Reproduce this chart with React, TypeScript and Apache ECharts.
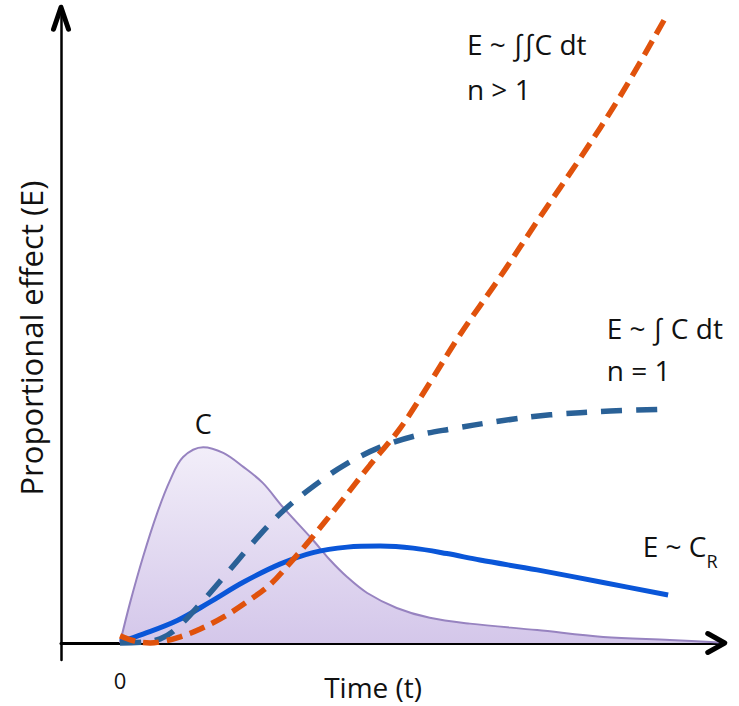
import React, { useEffect, useRef } from "react";
import * as echarts from "echarts";

// Concentration curve C(t)
const cT = [0, 0.17, 0.39, 0.63, 0.85, 1.07, 1.41, 1.75, 2.09, 2.42, 2.76, 3.27, 3.56, 3.85, 4.19, 4.69, 5.25, 5.93, 7.07, 8.19, 9.32, 10.25];
const cV = [0, 1.18, 2.53, 3.82, 4.79, 5.47, 5.76, 5.59, 5.18, 4.71, 4.0, 3.03, 2.44, 1.94, 1.47, 1.03, 0.74, 0.57, 0.38, 0.18, 0.09, 0.01];

// E ~ ∫ C dt (n = 1)
const n1T = [0, 0.42, 0.68, 0.93, 1.36, 1.86, 2.37, 2.8, 3.31, 3.81, 4.41, 5.0, 5.59, 6.44, 7.29, 8.31, 9.29];
const n1V = [0, 0.03, 0.12, 0.38, 1.15, 2.15, 3.18, 3.94, 4.65, 5.24, 5.76, 6.09, 6.29, 6.53, 6.71, 6.82, 6.88];

// E ~ ∫∫ C dt (n > 1)
const n2T = [0, 0.25, 0.51, 0.76, 1.02, 1.36, 1.78, 2.2, 2.54, 2.88, 3.22, 3.73, 4.24, 4.75, 5.25, 5.76, 6.44, 7.12, 7.8, 8.47, 9.27];
const n2V = [0.21, 0.06, 0, 0.06, 0.18, 0.41, 0.79, 1.27, 1.71, 2.35, 3.03, 4.12, 5.24, 6.32, 7.65, 9.06, 10.76, 12.53, 14.26, 16.06, 18.47];

// E ~ C_R
const crT = [0, 0.39, 0.97, 1.53, 2.08, 2.71, 3.27, 3.85, 4.41, 4.97, 5.54, 6.1, 7.07, 8.19, 9.29];
const crV = [0.03, 0.26, 0.66, 1.21, 1.78, 2.32, 2.66, 2.82, 2.85, 2.79, 2.63, 2.44, 2.15, 1.78, 1.41];

// Axis ranges
const X_MIN = -1;
const X_MAX = 10.25;
const Y_MIN = -0.5;
const Y_MAX = 18.7;

// Texts
const labelN2a = "E ~ ∫∫C dt";
const labelN2b = "n > 1";
const labelN1a = "E ~ ∫ C dt";
const labelN1b = "n = 1";
const labelC = "C";
const xName = "Time (t)";
const yName = "Proportional effect (E)";
const zeroLabel = "0";

const FONT = "'Open Sans', 'Noto Sans', 'DejaVu Sans', sans-serif";

const zip = (a: number[], b: number[]) => a.map((x, i) => [x, b[i]]);

export default function App() {
  const ref = useRef<HTMLDivElement>(null);

  useEffect(() => {
    const chart = echarts.init(ref.current!, null, { renderer: "svg" });
    chart.setOption({
      animation: false,
      grid: {
        left: 61,
        right: 14.25,
        top: 7.2,
        bottom: 46,
        outerBoundsMode: "none",
        containLabel: false,
      },
      xAxis: {
        type: "value",
        min: X_MIN,
        max: X_MAX,
        axisLine: { show: true, onZero: true, lineStyle: { color: "#000", width: 3 } },
        axisTick: { show: false },
        axisLabel: { show: false },
        splitLine: { show: false },
      },
      yAxis: {
        type: "value",
        min: Y_MIN,
        max: Y_MAX,
        axisLine: { show: true, onZero: false, lineStyle: { color: "#000", width: 2.5 } },
        axisTick: { show: false },
        axisLabel: { show: false },
        splitLine: { show: false },
      },
      series: [
        {
          type: "line",
          data: zip(cT, cV),
          smooth: 0.35,
          symbol: "none",
          lineStyle: { color: "#9783c0", width: 2 },
          areaStyle: {
            color: new echarts.graphic.LinearGradient(0, 0, 0, 1, [
              { offset: 0, color: "#f2eef9" },
              { offset: 1, color: "#d4c7ea" },
            ]),
            opacity: 1,
          },
          z: 1,
        },
        {
          type: "line",
          data: zip(crT, crV),
          smooth: 0.35,
          symbol: "none",
          lineStyle: { color: "#0a56d8", width: 5 },
          z: 2,
        },
        {
          type: "line",
          data: zip(n1T, n1V),
          smooth: 0.35,
          symbol: "none",
          lineStyle: { color: "#2a6197", width: 5.5, type: [21, 14] },
          z: 3,
        },
        {
          type: "line",
          data: zip(n2T, n2V),
          smooth: 0.35,
          symbol: "none",
          lineStyle: { color: "#e0520c", width: 5.5, type: [16, 8] },
          z: 4,
        },
      ],
    });

    const px = (t: number, v: number) =>
      chart.convertToPixel({ gridIndex: 0 }, [t, v]) as number[];

    const xe = px(X_MAX, 0);
    const ye = px(X_MIN, Y_MAX);

    const txt = (t: number, v: number, text: string, size: number, align = "left", extra: any = {}) => {
      const p = px(t, v);
      return {
        type: "text",
        x: p[0],
        y: p[1],
        z: 100,
        ...extra,
        style: {
          text,
          fontSize: size,
          fontFamily: FONT,
          fill: "#111",
          align,
          verticalAlign: "middle",
          ...(extra.style || {}),
        },
      };
    };

    const pCR = px(8.86, 2.85);

    chart.setOption({
      graphic: [
        {
          type: "polyline",
          shape: {
            points: [
              [xe[0] - 17, xe[1] - 9.5],
              [xe[0], xe[1]],
              [xe[0] - 17, xe[1] + 9.5],
            ],
          },
          style: { stroke: "#000", lineWidth: 5, fill: "none", lineCap: "round", lineJoin: "round" },
          z: 100,
        },
        {
          type: "polyline",
          shape: {
            points: [
              [ye[0] - 7.5, ye[1] + 22],
              [ye[0], ye[1]],
              [ye[0] + 7.5, ye[1] + 22],
            ],
          },
          style: { stroke: "#000", lineWidth: 5, fill: "none", lineCap: "round", lineJoin: "round" },
          z: 100,
        },
        txt(5.88, 17.62, labelN2a, 28),
        txt(5.88, 16.3, labelN2b, 28),
        txt(8.25, 9.27, labelN1a, 28),
        txt(8.25, 8.04, labelN1b, 28),
        txt(1.41, 6.47, labelC, 27, "center"),
        txt(4.29, -1.29, xName, 28, "center"),
        txt(0, -1.09, zeroLabel, 22, "center"),
        txt(-1.51, 8.97, yName, 31, "center", { rotation: Math.PI / 2 }),
        {
          type: "text",
          x: pCR[0],
          y: pCR[1],
          z: 100,
          style: {
            text: "{a|E ~ C}{s|R}",
            align: "left",
            verticalAlign: "middle",
            rich: {
              a: { fontSize: 28, fontFamily: FONT, fill: "#111", lineHeight: 34, verticalAlign: "middle" },
              s: {
                fontSize: 18,
                fontFamily: FONT,
                fill: "#111",
                lineHeight: 18,
                padding: [30, 0, 0, 0],
                verticalAlign: "middle",
              },
            },
          },
        },
      ],
    });

    return () => chart.dispose();
  }, []);

  return (
    <div
      ref={ref}
      style={{ position: "fixed", left: 0, top: 0, width: 739, height: 706, background: "#fff" }}
    />
  );
}
